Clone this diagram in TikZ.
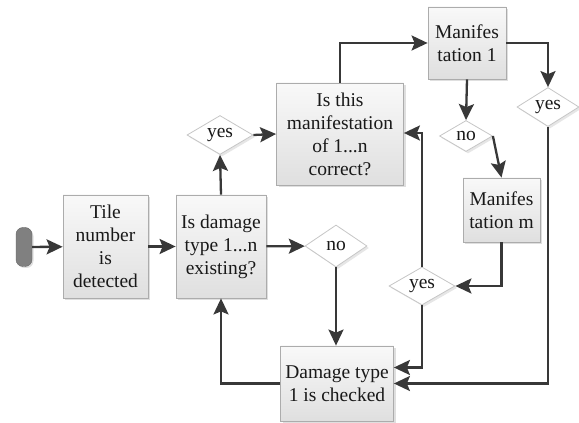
\documentclass[tikz,border=0pt]{standalone}
\usepackage{fontspec}
\setmainfont{Liberation Serif}
\usetikzlibrary{shapes.geometric,shadows,arrows.meta,calc}
\begin{document}
\begin{tikzpicture}[x=1pt,y=1pt,
  every node/.style={font=\fontsize{19.5}{23}\selectfont, text=black!90},
  procbox/.style={draw=gray!65, top color=gray!5, bottom color=gray!25, line width=0.8pt,
     drop shadow={opacity=0.25, shadow xshift=2pt, shadow yshift=-2pt},
     align=center, inner sep=0pt},
  decis/.style={shape=diamond, draw=gray!45, fill=white, line width=0.8pt, inner sep=0pt, aspect=1.6,
     drop shadow={opacity=0.2, shadow xshift=2pt, shadow yshift=-2pt}},
  conn/.style={draw=black!78, line width=2.3pt, -{Stealth[length=16pt,width=15pt,inset=3pt]}},
]
\useasboundingbox (0,0) rectangle (579,423);
% start terminal
\node[draw=black!60, fill=black!50, rounded corners=7pt, minimum width=16pt, minimum height=39pt, inner sep=0pt,
  drop shadow={opacity=0.25, shadow xshift=1.5pt, shadow yshift=-1.5pt}] (start) at (24,176) {};
% process boxes
\node[procbox, minimum width=85pt, minimum height=103pt] (tile) at (105.5,176.5) {Tile\\number\\is\\detected};
\node[procbox, minimum width=90pt, minimum height=103pt] (dmg) at (221,176.5) {Is damage\\type 1...n\\existing?};
\node[procbox, minimum width=113pt, minimum height=75pt] (checked) at (337,39.5) {Damage type\\1 is checked};
\node[procbox, minimum width=127pt, minimum height=102pt] (isthis) at (340,289) {Is this\\manifestation\\of 1...n\\correct?};
\node[procbox, minimum width=78pt, minimum height=72pt] (manf1) at (467,380) {Manifes\\tation 1};
\node[procbox, minimum width=77pt, minimum height=64pt] (manm) at (501.5,213) {Manifes\\tation m};
% decisions
\node[decis, minimum width=62pt, minimum height=42pt] (nolow) at (336,177) {no};
\node[decis, minimum width=66pt, minimum height=38pt] (yeslow) at (422,137) {yes};
\node[decis, minimum width=66pt, minimum height=39pt] (yesup) at (220,288) {yes};
\node[decis, minimum width=53pt, minimum height=31pt] (noup) at (466,287) {no};
\node[decis, minimum width=62pt, minimum height=39pt] (yesright) at (548,316) {yes};
% connectors
\draw[conn] (start) -- (tile);
\draw[conn] (tile) -- (dmg);
\draw[conn] (dmg) -- (nolow);
\draw[conn] (dmg.north) -- (yesup.south);
\draw[conn] (yesup.east) -- (isthis.west);
\draw[conn] (isthis.north) |- (manf1.west);
\draw[conn] (manf1.east) -| (yesright.north);
\draw[conn] (manf1.south) -- (noup.north);
\draw[conn] (noup.east) -- (manm.north);
\draw[conn] (manm.south) |- (yeslow.east);
\draw[conn] (yeslow.north) |- ([yshift=1pt]isthis.east);
\draw[conn] (yeslow.south) |- ([yshift=16pt]checked.east);
\draw[conn] (yesright.south) |- (checked.east);
\draw[conn] (nolow.south) -- (nolow.south |- checked.north);
\draw[conn] (checked.west) -| (dmg.south);
\end{tikzpicture}
\end{document}
